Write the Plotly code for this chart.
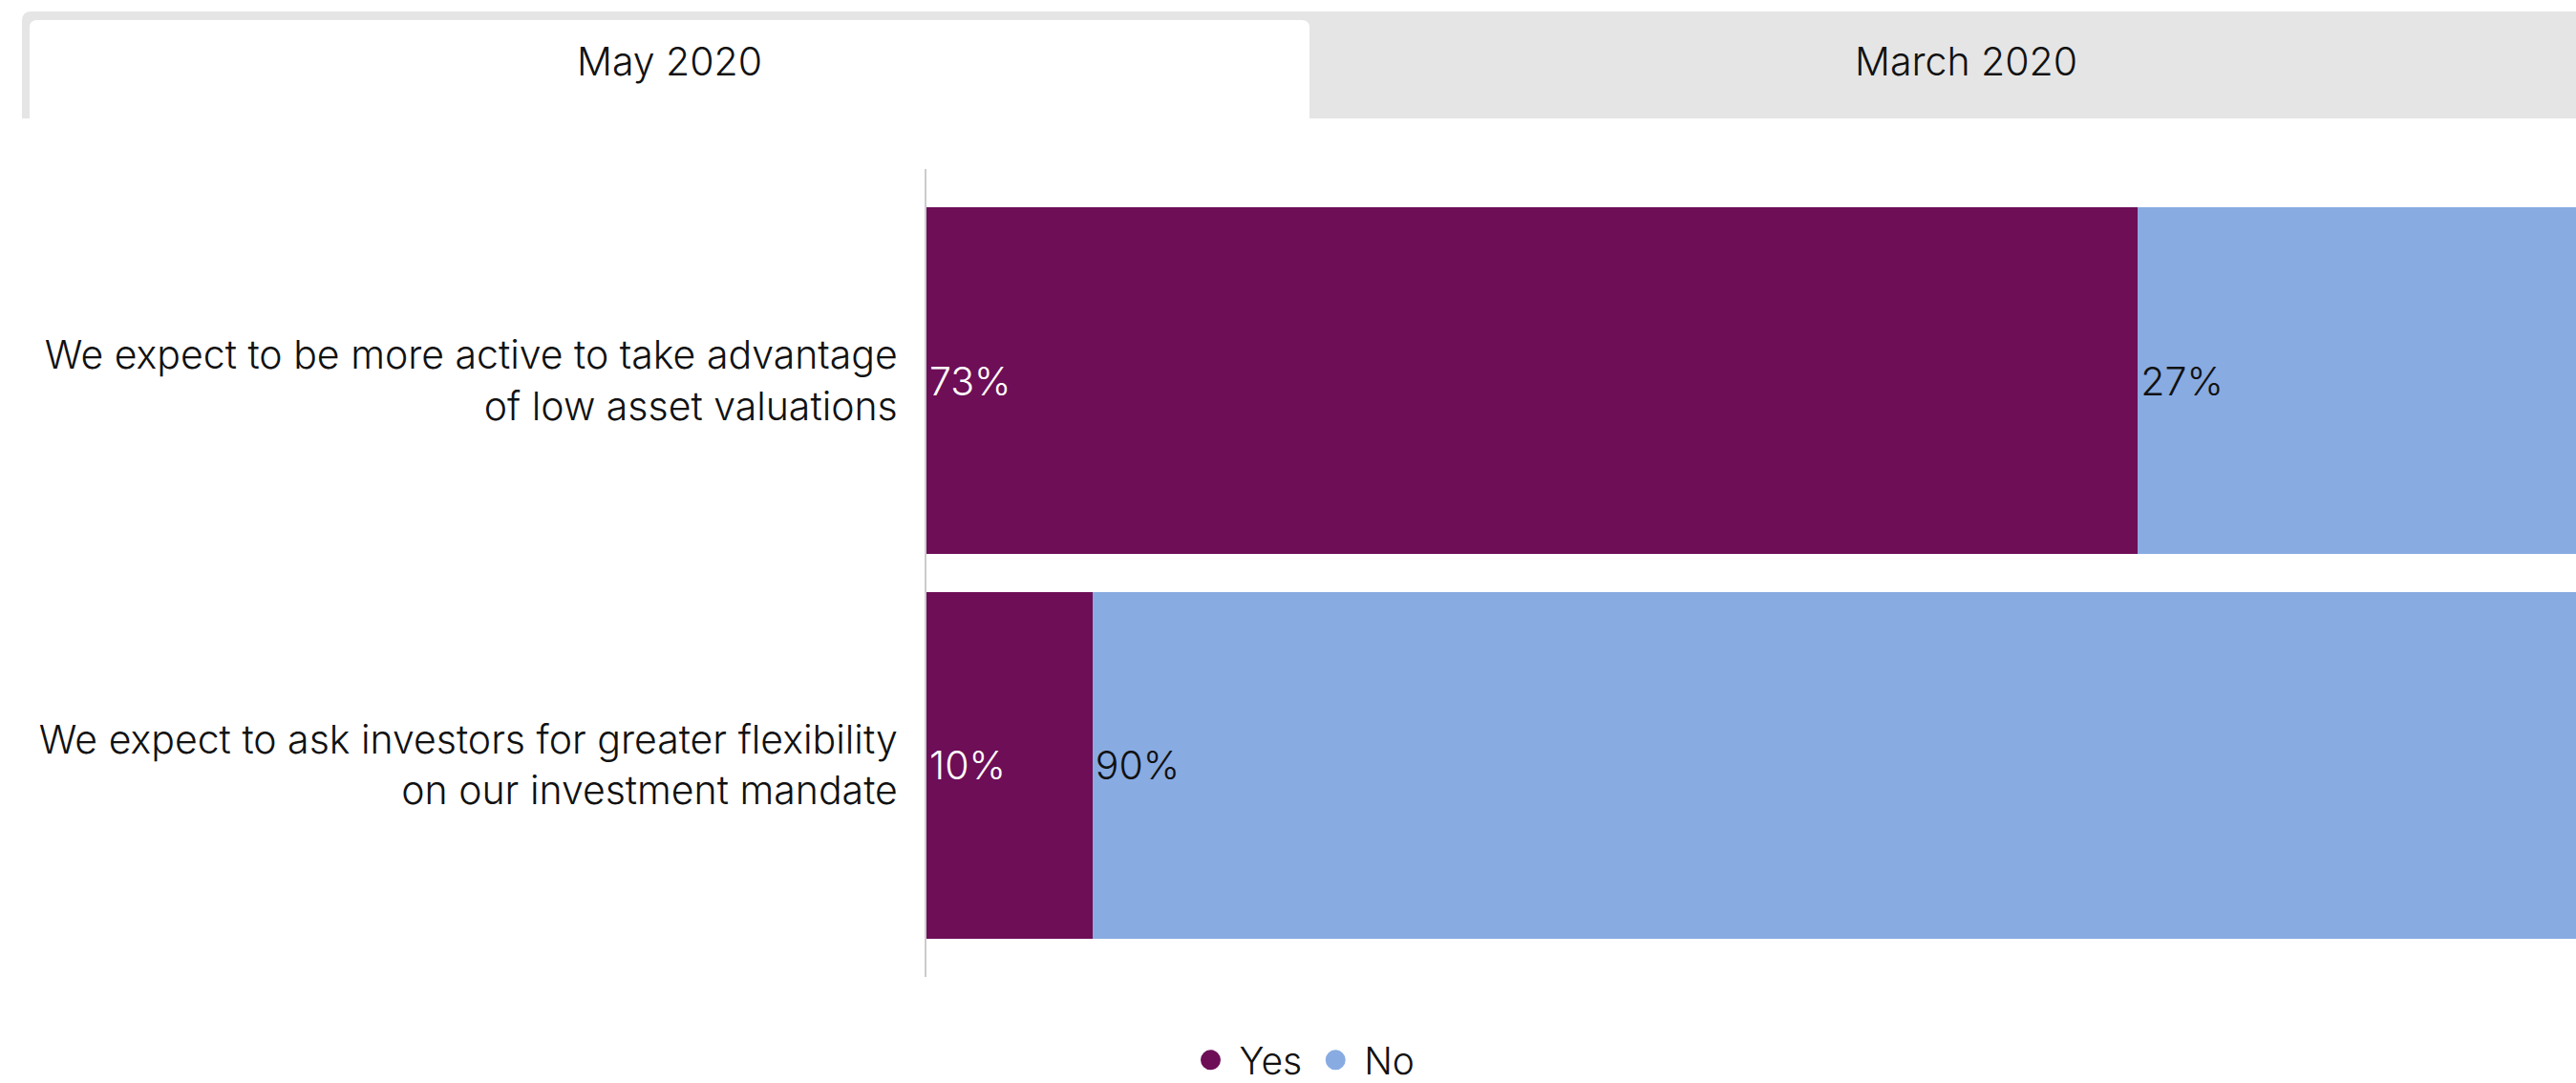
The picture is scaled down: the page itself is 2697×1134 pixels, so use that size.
import plotly.graph_objects as go

# ---- data ----
categories = [
    "We expect to be more active to take advantage<br>of low asset valuations",
    "We expect to ask investors for greater flexibility<br>on our investment mandate",
]
yes_values = [73, 10]
no_values = [27, 90]
series_names = ["Yes", "No"]
tab_labels = ["May 2020", "March 2020"]

# ---- style ----
YES_COLOR = "#6d0e57"
NO_COLOR = "#88abe2"
TAB_GREY = "#e5e5e5"
FONT = "Inter"
FW = 300
FS = 41

W, H = 2697, 1134
P_LEFT, P_RIGHT, P_TOP, P_BOTTOM = 970, 2697, 177, 1023
ML, MR, MT, MB = P_LEFT, W - P_RIGHT, P_TOP, H - P_BOTTOM
PW, PH = W - ML - MR, H - MT - MB
# the original chart's 100% edge lies slightly beyond the visible window
X_MAX = 99.4


def px_x(x):
    return (x - P_LEFT) / PW


def px_y(y):
    return (P_BOTTOM - y) / PH


def path(points):
    parts = []
    for cmd, pts in points:
        coords = " ".join(f"{px_x(x):.5f},{px_y(y):.5f}" for x, y in pts)
        parts.append(f"{cmd} {coords}")
    return " ".join(parts) + " Z"


font = dict(family=FONT, size=FS, color="#111111", weight=FW)

fig = go.Figure()

fig.add_trace(go.Bar(
    y=categories, x=yes_values, name=series_names[0], orientation="h",
    marker=dict(color=YES_COLOR, line=dict(width=0)),
    texttemplate="%{x}%", textposition="inside", insidetextanchor="start",
    textfont=dict(font, color="white"), constraintext="none",
    showlegend=False, hoverinfo="skip",
))
fig.add_trace(go.Bar(
    y=categories, x=no_values, name=series_names[1], orientation="h",
    marker=dict(color=NO_COLOR, line=dict(width=0)),
    texttemplate="%{x}%", textposition="inside", insidetextanchor="start",
    textfont=dict(font), constraintext="none",
    showlegend=False, hoverinfo="skip",
))

# legend entries (circle markers)
for name, col in zip(series_names, [YES_COLOR, NO_COLOR]):
    fig.add_trace(go.Scatter(
        x=[None], y=[None], mode="markers", name=name,
        marker=dict(symbol="circle", size=16, color=col, line=dict(color=col, width=5)),
        showlegend=True,
    ))

# tab bar shapes
outer = path([
    ("M", [(23, 124)]), ("L", [(23, 22)]), ("Q", [(23, 12), (33, 12)]),
    ("L", [(W, 12)]), ("L", [(W, 124)]),
])
inner = path([
    ("M", [(31, 124)]), ("L", [(31, 29)]), ("Q", [(31, 21), (39, 21)]),
    ("L", [(1363, 21)]), ("Q", [(1371, 21), (1371, 29)]), ("L", [(1371, 124)]),
])
fig.add_shape(type="path", path=outer, xref="paper", yref="paper",
              fillcolor=TAB_GREY, line=dict(width=0), layer="below")
fig.add_shape(type="path", path=inner, xref="paper", yref="paper",
              fillcolor="white", line=dict(width=0), layer="below")

for label, cx in zip(tab_labels, [701, 2058]):
    fig.add_annotation(text=label, x=px_x(cx), y=px_y(64), xref="paper", yref="paper",
                       showarrow=False, xanchor="center", yanchor="middle", font=font)

fig.update_layout(
    width=W, height=H,
    margin=dict(l=ML, r=MR, t=MT, b=MB, autoexpand=False),
    barmode="stack", bargap=0.1,
    paper_bgcolor="white", plot_bgcolor="white",
    font=font,
    showlegend=True,
    legend=dict(orientation="h", xref="container", yref="container", traceorder="normal",
                x=1362 / W, xanchor="center", y=(H - 1110) / H, yanchor="middle",
                font=dict(font, size=39), itemwidth=50, bgcolor="rgba(0,0,0,0)"),
    hovermode=False,
)
fig.update_xaxes(range=[0, X_MAX], visible=False, fixedrange=True)
fig.update_yaxes(type="category", categoryorder="array", categoryarray=categories,
                 range=[1.55, -0.55], showline=True, linecolor="#cccccc", linewidth=2,
                 showgrid=False, zeroline=False, ticks="", ticklabelstandoff=20,
                 tickfont=font, fixedrange=True)

# remove the browser's default 8px body margin so the figure fills the window exactly
fig.write_html("out.html", config={"displayModeBar": False},
               post_script="document.body.style.margin='0';document.body.style.overflow='hidden';")
